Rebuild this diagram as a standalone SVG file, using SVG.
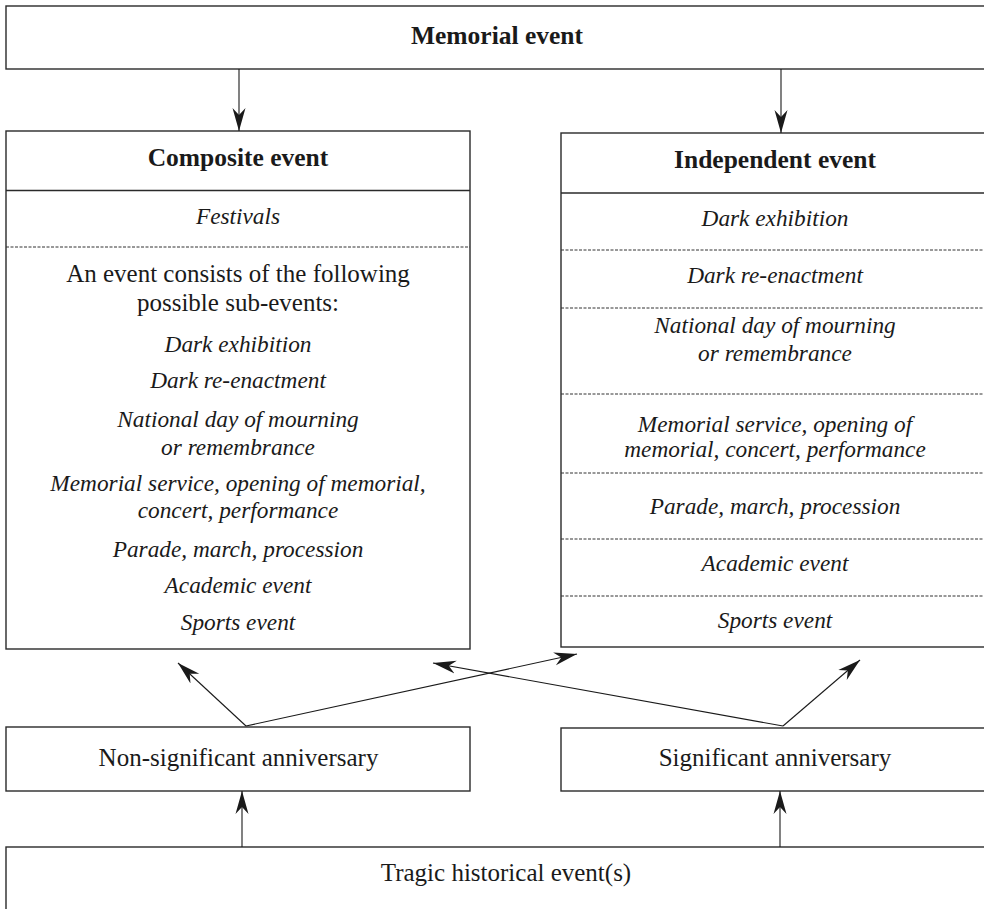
<svg xmlns="http://www.w3.org/2000/svg" width="984" height="909" viewBox="0 0 984 909">
  <style>
    .box { fill: #ffffff; stroke: #2a2a2a; stroke-width: 1.4; }
    .solid { stroke: #2a2a2a; stroke-width: 1.4; }
    .dash { stroke: #333333; stroke-width: 1; stroke-dasharray: 3 1.5; }
    .conn { stroke: #1a1a1a; stroke-width: 1.1; fill: none; marker-end: url(#arrow); }
    text { font-family: "Liberation Serif", "Times New Roman", serif; fill: #1a1a1a; text-anchor: middle; }
    .bold { font-weight: bold; font-size: 25.5px; }
    .reg { font-size: 25px; }
    .it { font-style: italic; font-size: 23.3px; }
  </style>
  <defs>
    <marker id="arrow" markerUnits="userSpaceOnUse" viewBox="-23 -8 24 16" markerWidth="24" markerHeight="16" refX="0" refY="0" orient="auto">
      <path d="M0,0 L-23,-6.5 L-16,0 L-23,6.5 Z" fill="#1a1a1a"/>
    </marker>
  </defs>
  <rect width="984" height="909" fill="#ffffff"/>

  <g id="memorial-event">
    <rect class="box" x="6" y="6" width="990" height="63"/>
    <text class="bold" x="497" y="44">Memorial event</text>
  </g>

  <g id="composite-event">
    <rect class="box" x="6" y="131" width="464" height="518"/>
    <text class="bold" x="238" y="166">Composite event</text>
    <line class="solid" x1="6" y1="190.5" x2="470" y2="190.5"/>
    <text class="it" x="238" y="224">Festivals</text>
    <line class="dash" x1="6" y1="247" x2="470" y2="247"/>
    <text class="reg" x="238" y="282">An event consists of the following</text>
    <text class="reg" x="238" y="311">possible sub-events:</text>
    <text class="it" x="238" y="352">Dark exhibition</text>
    <text class="it" x="238" y="388">Dark re-enactment</text>
    <text class="it" x="238" y="427">National day of mourning</text>
    <text class="it" x="238" y="455">or remembrance</text>
    <text class="it" x="238" y="491">Memorial service, opening of memorial,</text>
    <text class="it" x="238" y="518">concert, performance</text>
    <text class="it" x="238" y="557">Parade, march, procession</text>
    <text class="it" x="238" y="593">Academic event</text>
    <text class="it" x="238" y="630">Sports event</text>
  </g>

  <g id="independent-event">
    <rect class="box" x="561" y="133" width="430" height="514"/>
    <text class="bold" x="775" y="168">Independent event</text>
    <line class="solid" x1="561" y1="193" x2="991" y2="193"/>
    <text class="it" x="775" y="226">Dark exhibition</text>
    <line class="dash" x1="561" y1="250" x2="991" y2="250"/>
    <text class="it" x="775" y="283">Dark re-enactment</text>
    <line class="dash" x1="561" y1="308" x2="991" y2="308"/>
    <text class="it" x="775" y="333">National day of mourning</text>
    <text class="it" x="775" y="361">or remembrance</text>
    <line class="dash" x1="561" y1="394" x2="991" y2="394"/>
    <text class="it" x="775" y="432">Memorial service, opening of</text>
    <text class="it" x="775" y="457">memorial, concert, performance</text>
    <line class="dash" x1="561" y1="473" x2="991" y2="473"/>
    <text class="it" x="775" y="514">Parade, march, procession</text>
    <line class="dash" x1="561" y1="539" x2="991" y2="539"/>
    <text class="it" x="775" y="571">Academic event</text>
    <line class="dash" x1="561" y1="596" x2="991" y2="596"/>
    <text class="it" x="775" y="628">Sports event</text>
  </g>

  <g id="non-significant-anniversary">
    <rect class="box" x="6" y="727" width="464" height="64"/>
    <text class="reg" x="238.5" y="766">Non-significant anniversary</text>
  </g>

  <g id="significant-anniversary">
    <rect class="box" x="561" y="728" width="430" height="63"/>
    <text class="reg" x="775" y="766">Significant anniversary</text>
  </g>

  <g id="tragic-historical-events">
    <rect class="box" x="6" y="847" width="990" height="80"/>
    <text class="reg" x="506" y="881">Tragic historical event(s)</text>
  </g>

  <g id="connectors">
    <line class="conn" x1="239" y1="69" x2="239" y2="131"/>
    <line class="conn" x1="781" y1="69" x2="781" y2="133"/>
    <line class="conn" x1="246" y1="726" x2="178" y2="663"/>
    <line class="conn" x1="246" y1="726" x2="577" y2="654"/>
    <line class="conn" x1="783" y1="726" x2="433" y2="663"/>
    <line class="conn" x1="783" y1="726" x2="860" y2="660"/>
    <line class="conn" x1="242" y1="847" x2="242" y2="791"/>
    <line class="conn" x1="780" y1="847" x2="780" y2="791"/>
  </g>
</svg>
